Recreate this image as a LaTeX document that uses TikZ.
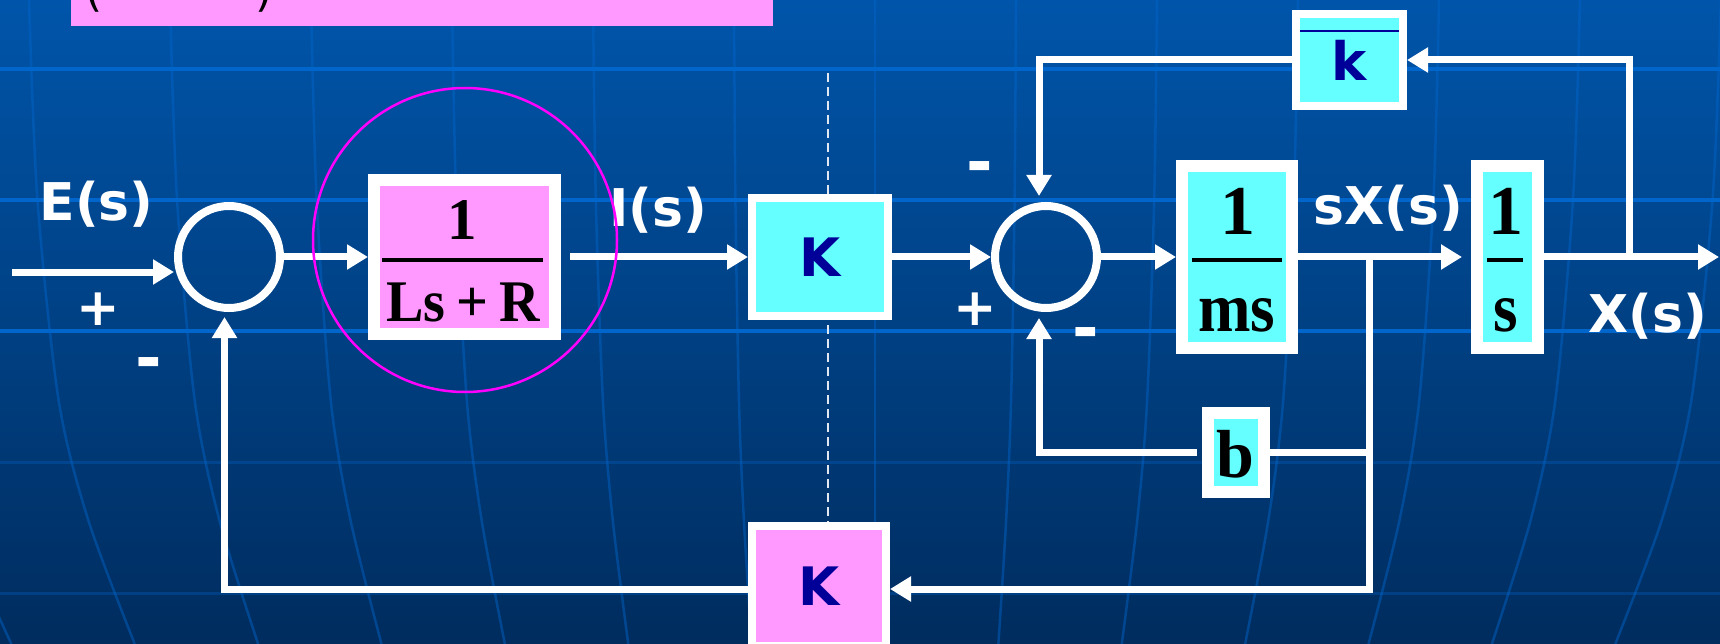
\documentclass[tikz,border=0pt]{standalone}
\usepackage{fontspec}
\usepackage{graphicx}
\usetikzlibrary{arrows.meta,calc}
\setmainfont{Liberation Serif}
\newfontfamily\labfont{DejaVu Sans}
\newfontfamily\eqfont{Liberation Serif}
\definecolor{bgtop}{RGB}{0,85,170}
\definecolor{bgbot}{RGB}{0,44,94}
\definecolor{gridc}{RGB}{0,102,204}
\definecolor{cyanfill}{RGB}{102,255,255}
\definecolor{pinkfill}{RGB}{255,153,255}
\definecolor{kblue}{RGB}{0,0,153}
\definecolor{hilite}{RGB}{255,0,255}
\definecolor{dashc}{RGB}{225,232,242}
\begin{document}
\begin{tikzpicture}[x=1pt,y=-1pt,
  wire/.style={white,line width=7pt,line join=miter},
  arr/.style={wire,-{Triangle[length=21pt,width=24pt]}},
  blk/.style={rectangle,draw=white,inner sep=0pt},
  cyanblk/.style={blk,fill=cyanfill},
  pinkblk/.style={blk,fill=pinkfill},
  sumc/.style={circle,draw=white,line width=8pt,minimum size=102pt,inner sep=0pt},
  lab/.style={text=white,inner sep=0pt,font={\labfont\bfseries\fontsize{52}{60}\selectfont}},
  sgnp/.style={text=white,inner sep=0pt,font={\labfont\bfseries\fontsize{52}{60}\selectfont}},
  sgnm/.style={text=white,inner sep=0pt,font={\labfont\bfseries\fontsize{64}{70}\selectfont}},
  kl/.style={text=kblue,font={\labfont\bfseries\fontsize{53}{60}\selectfont}},
  eqA/.style={text=black,inner sep=0pt,font={\eqfont\bfseries\fontsize{59}{66}\selectfont}},
  eqB/.style={text=black,inner sep=0pt,font={\eqfont\bfseries\fontsize{70}{78}\selectfont}},
  eqC/.style={text=black,inner sep=0pt,font={\eqfont\bfseries\fontsize{68}{76}\selectfont}},
  fbar/.style={black,line width=4pt}
]
\useasboundingbox (0,0) rectangle (1720,644);
% background
\shade[top color=bgtop,bottom color=bgbot] (0,0) rectangle (1720,644);
\foreach \k in {-7,...,7} {
  \pgfmathsetmacro\d{141*\k}
  \draw[gridc,opacity=0.45,line width=2.5pt] plot[smooth] coordinates
    {(875+\d,0) (875+0.99*\d,200) (875+0.965*\d,400) (875+0.93*\d,520) (875+0.875*\d,644)};
}
\foreach \y in {69,200,331} \draw[gridc,line width=4pt] (0,\y) -- (1720,\y);
\foreach \y in {462,593} \draw[gridc,opacity=0.3,line width=3pt] (0,\y) -- (1720,\y);
% title bar (cut off)
\fill[pinkfill] (71,0) rectangle (773,26);
\node[anchor=base,inner sep=0pt,text=black,font={\labfont\fontsize{44}{50}\selectfont}] (tpl) at (94,7) {(};
\node[anchor=base,inner sep=0pt,text=black,font={\labfont\fontsize{44}{50}\selectfont}] (tpr) at (264,7) {)};
% dashed separator
\coordinate (d1) at (828,73);
\coordinate (d2) at (828,522);
\draw[dashc,line width=2.5pt,dash pattern=on 9pt off 5pt] (d1) -- (d2);
% nodes
\node[sumc] (sum1) at (229,257) {};
\node[sumc] (sum2) at (1046,257) {};
\node[pinkblk,line width=12pt,minimum width=181pt,minimum height=153pt] (G1) at (464.5,257) {};
\node[cyanblk,line width=8pt,minimum width=136pt,minimum height=118pt,kl] (K1) at (820,257) {K};
\node[cyanblk,line width=12pt,minimum width=110pt,minimum height=182pt] (M) at (1237,257) {};
\node[cyanblk,line width=12pt,minimum width=61pt,minimum height=182pt] (S) at (1507.5,257) {};
\node[cyanblk,line width=8pt,minimum width=107pt,minimum height=92pt,kl] (kb) at (1349.5,60) {k};
\node[cyanblk,line width=12pt,minimum width=56pt,minimum height=79pt] (b) at (1236,452.5) {};
\node[pinkblk,line width=8pt,minimum width=134pt,minimum height=120pt,kl] (K2) at (819,586) {K};
\draw[kblue,line width=1.2pt] ($(kb.north west)+(8,21)$) -- ($(kb.north east)+(-8,21)$);
% fractions
\node[eqA,anchor=base] (G1n) at (462.5,240) {1};
\draw[fbar] (382,260) -- (543,260);
\node[eqA,anchor=base] (G1d) at (463.5,321) {\scalebox{0.95}[1]{Ls\kern.2em+\kern.2em R}};
\node[eqB,anchor=base] (Mn) at (1237.5,235) {1};
\draw[fbar] (1192,260.5) -- (1282,260.5);
\node[eqB,anchor=base] (Md) at (1237,331) {\scalebox{0.9}[1]{ms}};
\node[eqB,anchor=base] (Sn) at (1505.5,235) {1};
\draw[fbar] (1487,260.5) -- (1523,260.5);
\node[eqB,anchor=base] (Sd) at (1506,331) {\scalebox{0.9}[1]{s}};
\node[eqC,anchor=base] (bt) at (1235,477) {b};
% coordinates
\coordinate (in) at (12,272);
\coordinate (out) at (1719,257);
\coordinate (xk) at (1629.5,257);
\coordinate (xb) at (1369.5,257);
\coordinate (fb) at (1369.5,589);
\coordinate (bj) at (1369.5,452.5);
\coordinate (s1in) at (224.5,317);
\coordinate (s2in) at (1039,318);
\coordinate (s2top) at (1039,196);
% connectors
\draw[arr] (in) -- (in -| sum1.west);
\draw[arr] (sum1.east) -- (G1.west);
\draw[arr] ([xshift=9pt]G1.east) -- (K1.west);
\draw[arr] (K1.east) -- (sum2.west);
\draw[arr] (sum2.east) -- (M.west);
\draw[arr] (M.east) -- ([xshift=-9pt]S.west);
\draw[arr] (S.east) -- (out);
\draw[arr] (xk) |- (kb.east);
\draw[arr] (kb.west) -| (s2top);
\draw[arr] (xb) -- (fb) -- (fb -| K2.east);
\draw[arr] (fb -| K2.west) -| (s1in);
\draw[wire] (bj) -- (b.east);
\draw[arr] ([xshift=-5pt]b.west) -| (s2in);
% labels
\node[lab,anchor=base] (lE) at (96.5,221) {E(s)};
\node[lab,anchor=base] (lI) at (658,227) {I(s)};
\node[lab,anchor=base] (lsX) at (1388.5,225) {sX(s)};
\node[lab,anchor=base] (lX) at (1648,332) {X(s)};
\node[sgnp] (p1) at (98.5,309) {+};
\node[sgnm] (m1) at (149,369) {-};
\node[sgnp] (p2) at (975,309) {+};
\node[sgnm] (m2) at (980,173) {-};
\node[sgnm] (m3) at (1086,339) {-};
% highlight circle
\node[circle,draw=hilite,line width=2.5pt,minimum size=304pt,inner sep=0pt] (hl) at (465,240) {};
\end{tikzpicture}
\end{document}
